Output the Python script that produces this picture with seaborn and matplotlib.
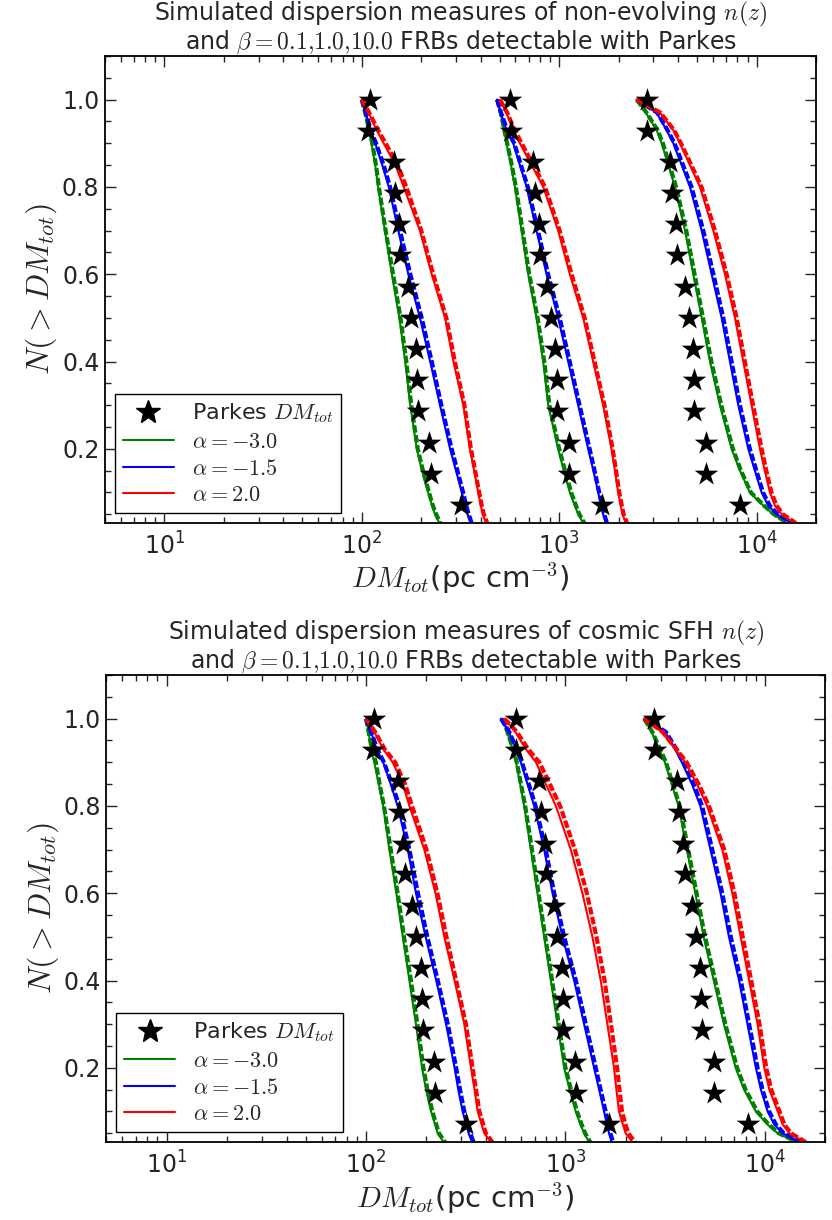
import matplotlib
matplotlib.use("Agg")
import matplotlib.pyplot as plt
from matplotlib.lines import Line2D
from matplotlib.ticker import MultipleLocator, LogLocator, NullFormatter
import seaborn as sns

# cumulative fraction levels at which the simulated curves were read
n_levels = [1.0, 0.97, 0.93, 0.9, 0.85, 0.8, 0.7, 0.6, 0.5, 0.4, 0.3, 0.2,
            0.15, 0.1, 0.07, 0.05, 0.03]

# Parkes observed FRBs: N(>DM) and DM for each beta group
star_n = [1.0, 0.929, 0.857, 0.786, 0.714, 0.643, 0.571, 0.5, 0.429,
          0.357, 0.286, 0.214, 0.143, 0.071]
star_dm_b01 = [110, 108, 145, 147, 154, 157, 171, 178, 188, 191, 192, 220, 223, 318]
star_dm_b1 = [562, 567, 734, 757, 788, 803, 872, 907, 955, 977, 977, 1121, 1123, 1653]
star_dm_b10 = [2780, 2798, 3640, 3718, 3895, 3955, 4314, 4528, 4737, 4800, 4834,
               5538, 5548, 8220]

# ---- non-evolving n(z), solid / dashed, per beta and alpha ----
top_b01_green = [100, 104, 109, 112, 117, 121, 131, 142, 155, 166, 176, 190, 202, 217, 227, 235, 247]
top_b01_blue = [100, 105, 110, 117, 127, 137, 153, 172, 197, 222, 249, 280, 300, 321, 334, 343, 356]
top_b01_red = [100, 108, 119, 129, 148, 163, 197, 226, 264, 291, 327, 353, 371, 389, 401, 410, 426]
top_b01_green_d = [100, 104, 109, 113, 118, 122, 132, 144, 157, 168, 178, 192, 204, 219, 229, 238, 250]
top_b01_blue_d = [100, 105, 111, 118, 129, 139, 156, 176, 201, 226, 253, 285, 305, 326, 338, 348, 360]
top_b01_red_d = [100, 109, 121, 132, 152, 168, 200, 230, 268, 296, 331, 357, 375, 393, 405, 415, 432]

top_b1_green = [486, 505, 525, 541, 570, 597, 645, 697, 768, 830, 880, 988, 1055, 1132, 1200, 1248, 1323]
top_b1_blue = [484, 505, 541, 585, 632, 684, 768, 863, 988, 1111, 1248, 1402, 1490, 1576, 1630, 1670, 1723]
top_b1_red = [501, 540, 585, 632, 725, 830, 988, 1132, 1323, 1486, 1670, 1840, 1915, 1989, 2050, 2092, 2175]
top_b1_green_d = [486, 506, 527, 545, 575, 603, 652, 705, 777, 840, 892, 1000, 1070, 1150, 1215, 1265, 1340]
top_b1_blue_d = [484, 507, 546, 592, 640, 693, 780, 878, 1005, 1130, 1268, 1425, 1510, 1595, 1650, 1690, 1745]
top_b1_red_d = [501, 545, 595, 645, 740, 848, 1005, 1155, 1345, 1510, 1695, 1865, 1940, 2015, 2075, 2120, 2205]

top_b10_green = [2470, 2750, 3120, 3306, 3573, 3862, 4338, 4780, 5269, 5805, 6522, 7473, 8236, 9253, 10807, 12144, 14184]
top_b10_blue = [2470, 3119, 3500, 3787, 4173, 4598, 5269, 5919, 6651, 7328, 8077, 9075, 9800, 10600, 11457, 12623, 15033]
top_b10_red = [2470, 3242, 3787, 4093, 4598, 5167, 6036, 6914, 7770, 8559, 9434, 10397, 11000, 11683, 12381, 13381, 15630]
top_b10_green_d = [2470, 2770, 3150, 3350, 3620, 3910, 4400, 4850, 5350, 5900, 6620, 7580, 8330, 9350, 10900, 12250, 14300]
top_b10_blue_d = [2470, 3140, 3540, 3840, 4240, 4680, 5370, 6040, 6780, 7470, 8230, 9240, 9970, 10780, 11650, 12800, 15200]
top_b10_red_d = [2470, 3260, 3820, 4140, 4670, 5260, 6150, 7050, 7920, 8720, 9600, 10600, 11200, 11900, 12600, 13600, 15800]

# ---- cosmic SFH n(z) ----
bot_b01_green = [100, 103, 106, 110, 116, 122, 131, 142, 153, 165, 178, 191, 200, 212, 222, 229, 245]
bot_b01_blue = [100, 106, 113, 122, 133, 144, 162, 178, 199, 225, 252, 278, 290, 305, 318, 327, 340]
bot_b01_red = [100, 110, 122, 136, 153, 165, 196, 223, 247, 278, 311, 336, 350, 363, 380, 392, 423]
bot_b01_green_d = [100, 103, 107, 112, 117, 123, 133, 144, 155, 168, 181, 194, 203, 215, 225, 232, 249]
bot_b01_blue_d = [100, 106, 114, 123, 135, 147, 165, 182, 203, 229, 257, 283, 296, 311, 323, 333, 346]
bot_b01_red_d = [100, 111, 124, 140, 157, 170, 201, 228, 253, 283, 317, 342, 356, 370, 387, 399, 430]

bot_b1_green = [484, 510, 543, 565, 593, 621, 671, 724, 782, 845, 912, 985, 1050, 1126, 1190, 1240, 1313]
bot_b1_blue = [475, 520, 565, 598, 645, 697, 782, 861, 966, 1105, 1240, 1391, 1475, 1561, 1615, 1653, 1704]
bot_b1_red = [494, 560, 633, 711, 797, 895, 1063, 1216, 1365, 1502, 1622, 1751, 1800, 1855, 1940, 2003, 2163]
bot_b1_green_d = [484, 511, 546, 570, 598, 628, 679, 733, 792, 857, 925, 1000, 1065, 1142, 1205, 1255, 1330]
bot_b1_blue_d = [475, 522, 570, 605, 655, 708, 796, 878, 985, 1127, 1265, 1418, 1500, 1590, 1640, 1680, 1730]
bot_b1_red_d = [494, 570, 650, 740, 835, 940, 1115, 1280, 1430, 1570, 1690, 1815, 1865, 1920, 2000, 2065, 2230]

bot_b10_green = [2480, 2700, 2950, 3155, 3409, 3686, 4062, 4476, 4932, 5540, 6226, 7133, 7861, 9005, 10316, 11590, 14350]
bot_b10_blue = [2480, 3155, 3545, 3831, 4305, 4744, 5331, 5990, 6600, 7417, 8172, 9005, 9545, 10316, 11150, 12285, 14920]
bot_b10_red = [2480, 3035, 3545, 3983, 4562, 5127, 6108, 6863, 7557, 8332, 9182, 9922, 10517, 11590, 12285, 13280, 15815]
bot_b10_green_d = [2480, 2720, 2980, 3190, 3450, 3740, 4120, 4540, 5010, 5630, 6330, 7250, 7990, 9150, 10450, 11750, 14500]
bot_b10_blue_d = [2480, 3180, 3600, 3900, 4390, 4840, 5440, 6110, 6740, 7570, 8330, 9180, 9720, 10500, 11350, 12450, 15100]
bot_b10_red_d = [2480, 3060, 3600, 4050, 4650, 5240, 6250, 7030, 7740, 8530, 9390, 10150, 10750, 11830, 12520, 13500, 16000]

alpha_labels = [r"$\alpha = -3.0$", r"$\alpha = -1.5$", r"$\alpha = 2.0$"]
alpha_colors = ["#008000", "#0000ff", "#ff0000"]

titles = [
    "Simulated dispersion measures of non-evolving $n(z)$\n"
    r"and $\beta = 0.1{,}1.0{,}10.0$ FRBs detectable with Parkes",
    "Simulated dispersion measures of cosmic SFH $n(z)$\n"
    r"and $\beta = 0.1{,}1.0{,}10.0$ FRBs detectable with Parkes",
]

top_curves = [
    [top_b01_green, top_b01_blue, top_b01_red],
    [top_b1_green, top_b1_blue, top_b1_red],
    [top_b10_green, top_b10_blue, top_b10_red],
]
top_curves_d = [
    [top_b01_green_d, top_b01_blue_d, top_b01_red_d],
    [top_b1_green_d, top_b1_blue_d, top_b1_red_d],
    [top_b10_green_d, top_b10_blue_d, top_b10_red_d],
]
bot_curves = [
    [bot_b01_green, bot_b01_blue, bot_b01_red],
    [bot_b1_green, bot_b1_blue, bot_b1_red],
    [bot_b10_green, bot_b10_blue, bot_b10_red],
]
bot_curves_d = [
    [bot_b01_green_d, bot_b01_blue_d, bot_b01_red_d],
    [bot_b1_green_d, bot_b1_blue_d, bot_b1_red_d],
    [bot_b10_green_d, bot_b10_blue_d, bot_b10_red_d],
]
star_groups = [star_dm_b01, star_dm_b1, star_dm_b10]


def draw_panel(ax, curves, curves_d, title):
    for group, group_d in zip(curves, curves_d):
        for xs, xs_d, col in zip(group, group_d, alpha_colors):
            sns.lineplot(x=xs, y=n_levels, color=col, lw=1.5, sort=False,
                         estimator=None, ax=ax)
            sns.lineplot(x=xs_d, y=n_levels, color=col, lw=3.0, sort=False,
                         estimator=None, linestyle=(0, (1.8, 0.6)), ax=ax)
    for dms in star_groups:
        sns.scatterplot(x=dms, y=star_n, marker="*", s=320, color="k",
                        edgecolor="k", linewidth=0, zorder=5, ax=ax)

    ax.set_xscale("log")
    ax.set_xlim(5, 2e4)
    ax.set_ylim(0.03, 1.1)
    ax.yaxis.set_major_locator(MultipleLocator(0.2))
    ax.yaxis.set_minor_locator(MultipleLocator(0.05))
    ax.xaxis.set_major_locator(LogLocator(base=10))
    ax.xaxis.set_minor_locator(LogLocator(base=10, subs=range(2, 10)))
    ax.xaxis.set_minor_formatter(NullFormatter())
    ax.tick_params(which="both", direction="in", top=True, right=True,
                   labelsize=17, width=1)
    ax.tick_params(which="major", length=8)
    ax.tick_params(which="minor", length=4)
    ax.tick_params(axis="x", which="major", pad=7)
    ax.tick_params(axis="y", which="major", pad=4)
    for sp in ax.spines.values():
        sp.set_linewidth(1.3)
        sp.set_color("k")

    ax.set_xlabel(r"$DM_{tot}$(pc cm$^{-3}$)", fontsize=21, labelpad=1)
    ax.set_ylabel(r"$N(>DM_{tot})$", fontsize=23, labelpad=2)
    ax.set_title(title, fontsize=17, linespacing=0.95, pad=3)

    handles = [
        Line2D([], [], marker="*", color="k", ls="none", markersize=18),
    ] + [Line2D([], [], color=c, lw=1.5) for c in alpha_colors]
    labels = [r"Parkes $DM_{tot}$"] + alpha_labels
    leg = ax.legend(handles, labels, loc="lower left", fontsize=16,
                    frameon=True, fancybox=False, framealpha=1,
                    edgecolor="k", handlelength=2.3, handletextpad=0.8,
                    borderaxespad=0.45, labelspacing=0.3, borderpad=0.35)
    leg.get_frame().set_linewidth(1.0)


sns.set_style("ticks")
plt.rcParams["font.family"] = ["DejaVu Sans"]
plt.rcParams["mathtext.fontset"] = "cm"

fig = plt.figure(figsize=(8.32, 12.2), dpi=100)
ax_top = fig.add_axes([0.1262, 0.5713, 0.8546, 0.3828])
ax_bot = fig.add_axes([0.1280, 0.0639, 0.8636, 0.3828])

draw_panel(ax_top, top_curves, top_curves_d, titles[0])
draw_panel(ax_bot, bot_curves, bot_curves_d, titles[1])

fig.savefig("out.png", dpi=100)
